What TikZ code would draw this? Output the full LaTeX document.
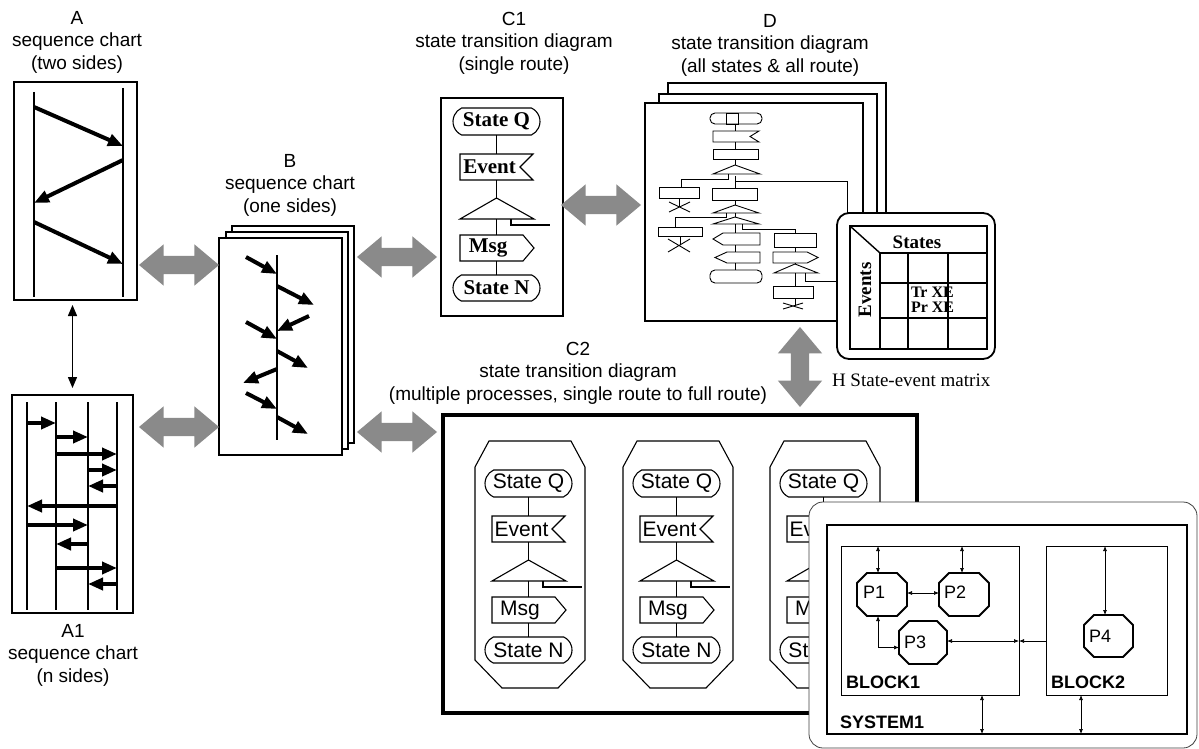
\documentclass[tikz,border=0pt]{standalone}
\usepackage{fontspec}
\setmainfont{Liberation Serif}
\setsansfont{Liberation Sans}
\usetikzlibrary{arrows.meta,shapes.arrows,shapes.misc,fit,calc}
\definecolor{arrowgray}{RGB}{138,138,138}

\newcommand\ttlfont{\sffamily\fontsize{19}{22.5}\selectfont}
\newcommand\sdlrm{\rmfamily\bfseries\fontsize{21}{21}\selectfont}
\newcommand\sdlsf{\sffamily\fontsize{21}{20}\selectfont}

% one SDL process column: state, input, decision, output, next state
% #1 name prefix, #2 centre x, #3 top y, #4 font
\newcommand\flowcol[4]{%
 \begin{scope}[shift={(#2,#3)}]
  \node[stad,minimum width=87pt,minimum height=27pt,font=#4] (#1sq) at (1.5,13.5) {State Q};
  \node[fit={(-35,46) (38,72)}] (#1ev) {};
  \draw[fl] (#1ev.north east) -- (#1ev.north west) -- (#1ev.south west) -- (#1ev.south east) -- ([xshift=-13pt]#1ev.east) -- cycle;
  \node[font=#4] (#1evt) at ([xshift=-7pt]#1ev.center) {Event};
  \node[fit={(-35,90) (39,111)}] (#1dc) {};
  \draw[fl] (#1dc.south west) -- (1.5,90) -- (#1dc.south east) -- cycle;
  \coordinate (#1out) at (55,117);
  \draw[fl] (16,111) |- (#1out);
  \node[fit={(-35,127) (28,153)}] (#1msg) {};
  \draw[fl] (#1msg.north west) -- (#1msg.north east) -- ++(11,13) -- (#1msg.south east) -- (#1msg.south west) -- cycle;
  \node[font=#4] (#1msgt) at ([xshift=-3.5pt]#1msg.center) {Msg};
  \node[stad,minimum width=87pt,minimum height=26pt,font=#4] (#1sn) at (1.5,180) {State N};
  \draw[fl] (#1sq.south) -- (#1ev.north -| #1sq.south);
  \draw[fl] (#1ev.south -| #1sq.south) -- (1.5,90);
  \draw[fl] (#1dc.south -| #1sq.south) -- (#1msg.north -| #1sq.south);
  \draw[fl] (#1msg.south -| #1sq.south) -- (#1sn.north);
 \end{scope}}

% process outline with steep top corners and 45 degree bottom corners
\newcommand\prococt[1]{([xshift=14pt]#1.north west) -- ([xshift=-14pt]#1.north east) -- ([yshift=-26pt]#1.north east) -- ([yshift=28pt]#1.south east) -- ([xshift=-27pt]#1.south east) -- ([xshift=27pt]#1.south west) -- ([yshift=28pt]#1.south west) -- ([yshift=-26pt]#1.north west) -- cycle}
% chamfered process symbol
\newcommand\chamf[2]{([xshift=#2]#1.north west) -- ([xshift=-#2]#1.north east) -- ([yshift=-#2]#1.north east) -- ([yshift=#2]#1.south east) -- ([xshift=-#2]#1.south east) -- ([xshift=#2]#1.south west) -- ([yshift=#2]#1.south west) -- ([yshift=-#2]#1.north west) -- cycle}

\begin{document}
\begin{tikzpicture}[x=1pt,y=-1pt,
  every node/.style={inner sep=0pt,outer sep=0pt},
  ttl/.style={font=\ttlfont,align=center},
  frame/.style={draw,line width=1.1pt},
  page/.style={draw,line width=1.1pt,fill=white},
  life/.style={line width=1.3pt},
  seqarr/.style={line width=4pt,-{Triangle[length=15pt,width=12pt]}},
  fl/.style={line width=1.1pt},
  stad/.style={draw,line width=1.1pt,rounded rectangle,rounded rectangle arc length=130},
  dl/.style={line width=0.9pt},
  bigarr/.style={double arrow,double arrow tip angle=80,double arrow head extend=11.5pt,inner xsep=0pt,inner ysep=9pt,minimum height=80pt,fill=arrowgray,draw=none},
  sarr/.style={line width=0.7pt,{Latex[length=5pt,width=4pt]}-{Latex[length=5pt,width=4pt]}},
  proc/.style={line width=1.8pt},
  blk/.style={draw,line width=1pt},
  blklbl/.style={font=\sffamily\bfseries\fontsize{18}{18}\selectfont,anchor=west},
  plbl/.style={font=\sffamily\fontsize{18}{18}\selectfont},
  mtx/.style={line width=1.4pt}
]
\useasboundingbox (0,0) rectangle (1199,749);

% ---------------- A: sequence chart, two sides
\node[ttl] (Attl) at (77,42) {A\\sequence chart\\(two sides)};
\node[frame,fit={(14,82) (137,300)}] (Abox) {};
\coordinate (Al) at (34,92);
\coordinate (Ar) at (123,88);
\draw[life] (Al) -- (34,297);
\draw[life] (Ar) -- (123,297);
\draw[seqarr] (Al |- 0,107) -- (Ar |- 0,146);
\draw[seqarr] (Ar |- 0,160) -- (Al |- 0,203);
\draw[seqarr] (Al |- 0,222) -- (Ar |- 0,264);

% ---------------- A1: sequence chart, n sides
\node[frame,fit={(12,395) (133,613)}] (A1box) {};
\foreach \x [count=\i] in {27,56,88,117} {
  \coordinate (L\i) at (\x,402);
  \draw[life] (L\i) -- (\x,610);
}
\draw[seqarr] (L1 |- 0,423) -- (L2 |- 0,423);
\draw[seqarr] (L2 |- 0,437) -- (L3 |- 0,437);
\draw[seqarr] (L2 |- 0,454) -- (L4 |- 0,454);
\draw[seqarr] (L3 |- 0,470) -- (L4 |- 0,470);
\draw[seqarr] (L4 |- 0,486) -- (L3 |- 0,486);
\draw[seqarr] (L4 |- 0,506) -- (L1 |- 0,506);
\draw[seqarr] (L1 |- 0,525) -- (L3 |- 0,525);
\draw[seqarr] (L3 |- 0,544) -- (L2 |- 0,544);
\draw[seqarr] (L2 |- 0,568) -- (L4 |- 0,568);
\draw[seqarr] (L4 |- 0,584) -- (L3 |- 0,584);
\node[ttl] (A1ttl) at (73,655) {A1\\sequence chart\\(n sides)};

\draw[line width=1.4pt,{Triangle[length=11pt,width=9pt]}-{Triangle[length=11pt,width=9pt]},shorten <=5pt,shorten >=7pt]
  (Abox.south -| A1box.north) -- (A1box.north);

% ---------------- B: sequence chart, one side
\node[ttl] (Bttl) at (290,185) {B\\sequence chart\\(one sides)};
\node[page,fit={(232,226) (354,443)}] (Bp3) {};
\node[page,fit={(226,232) (348,449)}] (Bp2) {};
\node[page,fit={(219,238) (342,455)}] (Bp1) {};
\coordinate (Bl) at (277,255);
\draw[life] (Bl) -- (277,440);
\draw[seqarr] (246,257) coordinate (Bm1) -- (Bl |- 0,274);
\draw[seqarr] (Bl |- 0,286) -- (314,305) coordinate (Bm2);
\draw[seqarr] (309,316) coordinate (Bm3) -- (Bl |- 0,331);
\draw[seqarr] (246,322) coordinate (Bm4) -- (Bl |- 0,339);
\draw[seqarr] (Bl |- 0,351) -- (308,368) coordinate (Bm5);
\draw[seqarr] (Bl |- 0,369) -- (243,383) coordinate (Bm6);
\draw[seqarr] (246,393) coordinate (Bm7) -- (Bl |- 0,409);
\draw[seqarr] (Bl |- 0,417) -- (308,434) coordinate (Bm8);

% ---------------- C1: single route
\node[ttl] (C1ttl) at (514,43) {C1\\state transition diagram\\(single route)};
\node[frame,fit={(441,98) (563,316)}] (C1box) {};
\flowcol{c1}{495}{108}{\sdlrm}

% ---------------- D: all states and all routes
\node[ttl] (Dttl) at (770,45) {D\\state transition diagram\\(all states \& all route)};
\node[page,fit={(668,83) (886,303)}] (Dp3) {};
\node[page,fit={(659,94) (877,312)}] (Dp2) {};
\node[page,fit={(645,103) (863,321)}] (Dp1) {};
% miniature overview flowchart
\draw[dl,rounded corners=5pt] (710,113) rectangle (762,124);
\draw[dl] (726,113) rectangle (738,124);
\draw[dl] (735,124) -- (735,131);
\draw[dl] (759,131) -- (713,131) -- (713,142) -- (759,142) -- (750,136.5) -- cycle;
\draw[dl] (735,142) -- (735,149);
\draw[dl] (713,149) rectangle (758,159);
\draw[dl] (735,159) -- (735,165);
\draw[dl] (713,174) -- (735,165) -- (760,174) -- cycle;
\draw[dl] (728,174) -- (728,179) -- (681,179) -- (681,187);
\draw[dl] (659,187) rectangle (699,198);
\draw[dl] (679,198) -- (679,207);
\draw[dl] (669,202) -- (690,212) (669,212) -- (690,202);
\coordinate (Dout1) at (735,181);
\draw[dl] (735,176) -- (735,188);
\draw[dl] (712,188) rectangle (757,200);
\draw[dl] (735,200) -- (735,205);
\draw[dl] (713,213) -- (735,205) -- (759,213) -- cycle;
\draw[dl] (735,213) -- (735,217);
\draw[dl] (713,224) -- (735,217) -- (759,224) -- cycle;
\draw[dl] (726,213) -- (726,217) -- (675,217) -- (675,227);
\draw[dl] (658,227) rectangle (702,236);
\draw[dl] (680,236) -- (680,245);
\draw[dl] (668,239) -- (690,252) (668,252) -- (690,239);
\draw[dl] (742,224) -- (742,229) -- (795,229) -- (795,233);
\draw[dl] (735,224) -- (735,233);
\draw[dl] (713,239) -- (723,233) -- (760,233) -- (760,245) -- (723,245) -- cycle;
\draw[dl] (735,245) -- (735,252);
\draw[dl] (715,257.5) -- (727,252) -- (760,252) -- (760,263) -- (727,263) -- cycle;
\draw[dl] (735,263) -- (735,270);
\draw[dl,rounded corners=5pt] (710,270) rectangle (762,283);
\draw[dl] (774,233) rectangle (816,247);
\draw[dl] (795,247) -- (795,252);
\draw[dl] (773,252) -- (807,252) -- (818,257.5) -- (807,263) -- (773,263) -- cycle;
\draw[dl] (795,263) -- (795,264);
\draw[dl] (774,273) -- (795,264) -- (818,273) -- cycle;
\draw[dl] (795,273) -- (795,286);
\draw[dl] (773,286) rectangle (813,298);
\draw[dl] (795,298) -- (795,306);
\draw[dl] (783,303) -- (803,309) (783,309) -- (803,303);
\coordinate (Dout2) at (805,273);

% ---------------- H: state-event matrix
\node[draw,line width=1.8pt,rounded corners=12pt,fill=white,fit={(837,213) (995,359)}] (H) {};
\node[draw,mtx,fit={(850,226) (987,349)}] (Hin) {};
\coordinate (Hc) at (880,253);
\draw[mtx] (Hin.north west) -- (Hc);
\draw[mtx] (Hc) -- (Hc -| Hin.east);
\draw[mtx] (Hc) -- (Hc |- Hin.south);
\draw[mtx] (908,253) -- (908,349);
\draw[mtx] (948,253) -- (948,349);
\draw[mtx] (880,283) -- (987,283);
\draw[mtx] (880,318) -- (987,318);
\node[font=\rmfamily\bfseries\fontsize{19}{19}\selectfont] (Hst) at (917,242) {States};
\node[font=\rmfamily\bfseries\fontsize{19}{19}\selectfont,rotate=90] (Hev) at (865,290) {Events};
\node[font=\rmfamily\bfseries\fontsize{16}{15}\selectfont,align=left,anchor=west] (Htr) at (911,300) {Tr XE\\Pr XE};
\node[font=\rmfamily\fontsize{19}{19}\selectfont,anchor=west] (Hlbl) at (832,380) {H State-event matrix};
% links from the overview flowchart into the matrix
\coordinate (Dk1) at (847,181);
\draw[dl] (Dout1) -- (Dk1) -- (Dk1 |- H.north);
\coordinate (Dk2) at (805,281);
\draw[dl] (Dout2) -- (Dk2) -- (Dk2 -| H.west);

% ---------------- C2: multiple processes
\node[ttl] (C2ttl) at (578,373) {C2\\state transition diagram\\(multiple processes, single route to full route)};
\node[draw,line width=3.2pt,fit={(443,415) (917,713)}] (C2box) {};
\node[fit={(475,441) (585,688)}] (o1) {};
\node[fit={(623,441) (733,688)}] (o2) {};
\node[fit={(770,441) (880,688)}] (o3) {};
\draw[fl] \prococt{o1};
\draw[fl] \prococt{o2};
\draw[fl] \prococt{o3};
\flowcol{p1}{527}{470}{\sdlsf}
\flowcol{p2}{675}{470}{\sdlsf}
\flowcol{p3}{822}{470}{\sdlsf}

% ---------------- SYSTEM1 block diagram
\node[draw=black!75,line width=0.8pt,rounded corners=14pt,fill=white,fit={(809,502) (1197,748)}] (sysp) {};
\node[draw,line width=2.6pt,fit={(827,525) (1187,734)}] (sys) {};
\node[blk,fit={(841,546) (1019,695)}] (b1) {};
\node[blk,fit={(1046,546) (1167,695)}] (b2) {};
\node[fit={(857,573) (907,616)}] (P1) {};
\node[fit={(939,573) (989,616)}] (P2) {};
\node[fit={(899,621) (947,664)}] (P3) {};
\node[fit={(1084,615) (1133,657)}] (P4) {};
\draw[proc] \chamf{P1}{10pt};
\draw[proc] \chamf{P2}{10pt};
\draw[proc] \chamf{P3}{10pt};
\draw[proc] \chamf{P4}{10pt};
\node[plbl] (P1t) at (874,592) {P1};
\node[plbl] (P2t) at (955,592) {P2};
\node[plbl] (P3t) at (915,642) {P3};
\node[plbl] (P4t) at (1100,636) {P4};
\node[blklbl] (b1t) at (846,682) {BLOCK1};
\node[blklbl] (b2t) at (1051,682) {BLOCK2};
\node[blklbl] (syst) at (840,722) {SYSTEM1};
\draw[sarr] ([xshift=-4pt]b1.north -| P1.north) -- ([xshift=-4pt]P1.north);
\draw[sarr] ([xshift=-2pt]b1.north -| P2.north) -- ([xshift=-2pt]P2.north);
\draw[sarr] ([yshift=1.5pt]P1.east) -- ([yshift=1.5pt]P2.west);
\draw[sarr] ([xshift=-4pt]P1.south) |- ([yshift=-5pt]P3.west);
\draw[sarr] ([yshift=1.5pt]P3.east) -- ([yshift=1.5pt]P3.east -| b1.east);
\draw[line width=0.7pt,-{Latex[length=5pt,width=4pt]}] ([yshift=1.5pt]P3.east -| b2.west) -- ([yshift=1.5pt]P3.east -| b1.east);
\draw[sarr] ([xshift=-3.5pt]b2.north -| P4.north) -- ([xshift=-3.5pt]P4.north);
\draw[sarr] ([xshift=52pt]b1.south) -- ([xshift=52pt]b1.south |- sys.south);
\draw[sarr] ([xshift=-25.5pt]b2.south) -- ([xshift=-25.5pt]b2.south |- sys.south);

% ---------------- shaded block arrows between the views
\node[bigarr] (gAB) at (179,265) {};
\node[bigarr] (gA1B) at (179,427) {};
\node[bigarr] (gBC1) at (397,257) {};
\node[bigarr] (gBC2) at (397,432) {};
\node[bigarr] (gC1D) at (601,205) {};
\node[bigarr,rotate=90,double arrow head extend=13pt] (gDC2) at (800,367) {};
\end{tikzpicture}
\end{document}
